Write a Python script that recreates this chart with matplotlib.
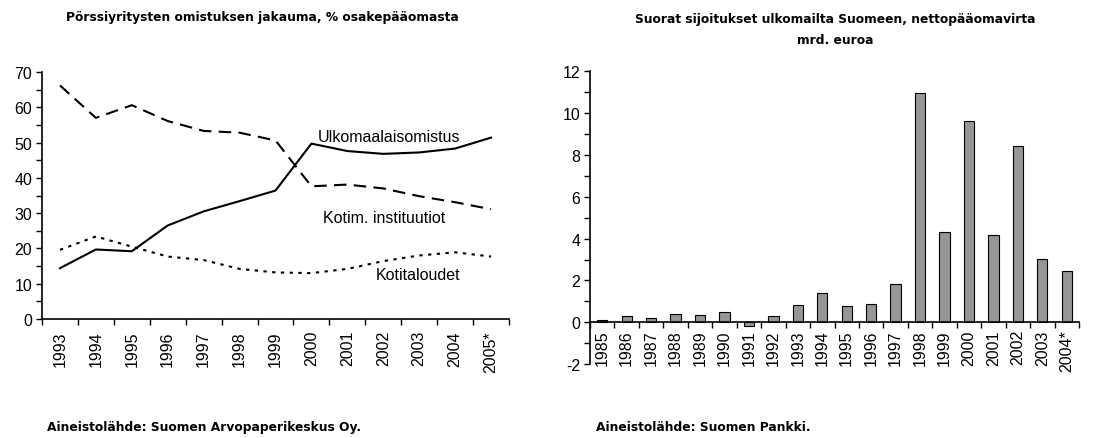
import matplotlib
matplotlib.use("Agg")
import matplotlib.pyplot as plt
from matplotlib.ticker import MultipleLocator, FixedLocator

plt.rcParams["axes.unicode_minus"] = False

years_left = ["1993", "1994", "1995", "1996", "1997", "1998", "1999", "2000",
              "2001", "2002", "2003", "2004", "2005*"]
ulkomaalais = [14.4, 19.7, 19.2, 26.5, 30.5, 33.4, 36.4, 49.7, 47.6, 46.8, 47.2, 48.3, 51.4]
kotim_inst = [66.2, 57.0, 60.6, 56.1, 53.3, 52.8, 50.6, 37.6, 38.1, 37.0, 34.8, 33.1, 31.1]
kotitaloudet = [19.6, 23.4, 20.5, 17.7, 16.7, 14.2, 13.2, 13.0, 14.2, 16.4, 18.0, 18.9, 17.7]

years_right = ["1985", "1986", "1987", "1988", "1989", "1990", "1991", "1992", "1993",
               "1994", "1995", "1996", "1997", "1998", "1999", "2000", "2001", "2002",
               "2003", "2004*"]
fdi = [0.13, 0.29, 0.21, 0.40, 0.35, 0.51, -0.16, 0.32, 0.84, 1.39, 0.80, 0.86,
       1.85, 10.95, 4.33, 9.61, 4.19, 8.45, 3.01, 2.47]

W, H = 1117, 439
fig = plt.figure(figsize=(W / 100, H / 100), dpi=100)
TS = 11.5
tick_font = dict(family="Liberation Sans", size=TS)
title_font = dict(family="DejaVu Sans", size=8.8, weight="bold")

# ---------- Left chart ----------
ax1 = fig.add_axes([42 / W, 1 - 320 / H, (509 - 42) / W, (320 - 73) / H])
x1 = list(range(len(years_left)))
ax1.plot(x1, ulkomaalais, color="black", lw=1.5)
ax1.plot(x1, kotim_inst, color="black", lw=1.5, dashes=(6, 3.5))
ax1.plot(x1, kotitaloudet, color="black", lw=1.5, dashes=(1.6, 2.6))
ax1.set_xlim(-0.5, len(years_left) - 0.5)
ax1.set_ylim(0, 70)
for s in ["top", "right"]:
    ax1.spines[s].set_visible(False)
for s in ["left", "bottom"]:
    ax1.spines[s].set_linewidth(1.2)
ax1.yaxis.set_major_locator(MultipleLocator(10))
ax1.yaxis.set_minor_locator(MultipleLocator(5))
ax1.tick_params(axis="y", which="both", direction="out", length=4, width=1, labelsize=TS, pad=3)
for lab in ax1.get_yticklabels():
    lab.set_fontfamily("Liberation Sans")
ax1.xaxis.set_major_locator(FixedLocator(x1))
ax1.set_xticklabels(years_left, rotation=90, fontdict=tick_font)
ax1.xaxis.set_minor_locator(FixedLocator([i - 0.5 for i in range(len(years_left) + 1)]))
ax1.tick_params(axis="x", which="major", length=0, pad=8)
ax1.tick_params(axis="x", which="minor", direction="out", length=4, width=1)

ann_font = dict(family="Liberation Sans", size=TS)
ax1.text(7.19, 51.8, "Ulkomaalaisomistus", ha="left", va="center", **ann_font)
ax1.text(7.33, 28.9, "Kotim. instituutiot", ha="left", va="center", **ann_font)
ax1.text(8.8, 12.7, "Kotitaloudet", ha="left", va="center", **ann_font)

fig.text(262 / W, 1 - 17 / H, "Pörssiyritysten omistuksen jakauma, % osakepääomasta",
         ha="center", va="center", **title_font)
fig.text(47 / W, 1 - 428 / H, "Aineistolähde: Suomen Arvopaperikeskus Oy.",
         ha="left", va="center", **title_font)

# ---------- Right chart ----------
ax2 = fig.add_axes([590 / W, 1 - 365.1 / H, (1079 - 590) / W, (365.1 - 72.3) / H])
x2 = list(range(len(years_right)))
ax2.bar(x2, fdi, width=0.42, color="#969696", edgecolor="black", linewidth=0.8)
ax2.set_xlim(-0.5, len(years_right) - 0.5)
ax2.set_ylim(-2, 12)
for s in ["top", "right"]:
    ax2.spines[s].set_visible(False)
ax2.spines["bottom"].set_position(("data", 0))
for s in ["left", "bottom"]:
    ax2.spines[s].set_linewidth(1.2)
ax2.yaxis.set_major_locator(MultipleLocator(2))
ax2.yaxis.set_minor_locator(MultipleLocator(1))
ax2.tick_params(axis="y", which="both", direction="out", length=4, width=1, labelsize=TS, pad=3)
for lab in ax2.get_yticklabels():
    lab.set_fontfamily("Liberation Sans")
ax2.xaxis.set_major_locator(FixedLocator(x2))
ax2.set_xticklabels(years_right, rotation=90, fontdict=tick_font)
ax2.xaxis.set_minor_locator(FixedLocator([i - 0.5 for i in range(len(years_right) + 1)]))
ax2.tick_params(axis="x", which="major", length=0, pad=5)
ax2.tick_params(axis="x", which="minor", direction="out", length=4, width=1)

fig.text(835 / W, 1 - 20 / H, "Suorat sijoitukset ulkomailta Suomeen, nettopääomavirta",
         ha="center", va="center", **title_font)
fig.text(835 / W, 1 - 40 / H, "mrd. euroa", ha="center", va="center", **title_font)
fig.text(596 / W, 1 - 428 / H, "Aineistolähde: Suomen Pankki.",
         ha="left", va="center", **title_font)

fig.savefig("out.png", dpi=100)
